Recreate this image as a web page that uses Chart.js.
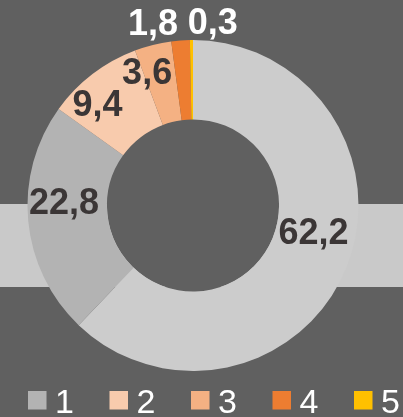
<!DOCTYPE html>
<html>
<head>
<meta charset="utf-8">
<script src="https://cdn.jsdelivr.net/npm/chart.js@4"></script>
<style>
  html, body { margin: 0; padding: 0; background: #606060; }
  #wrap { width: 403px; height: 417px; }
</style>
</head>
<body>
<div id="wrap"><canvas id="chartAnillo"></canvas></div>
<script>
// datos del gráfico
const categorias = ['', '1', '2', '3', '4', '5'];
const valores = [62.2, 22.8, 9.4, 3.6, 1.8, 0.3];
const etiquetas = ['62,2', '22,8', '9,4', '3,6', '1,8', '0,3'];

const colores = ['#cccccc', '#b3b3b3', '#f8cbad', '#f4b183', '#ed7d31', '#ffc000'];
const colorFondo = '#606060';
const colorFranja = '#c9c9c9';
// colocación de etiquetas: desplazamiento de ángulo (grados) y radio relativo al radio exterior
const posEtiquetas = [[-9.5, 0.745], [7, 0.78], [-6, 0.84], [-5, 0.85], [-8, 1.13], [6.7, 1.115]];
const colorEtiquetas = ['#3b3636', '#3b3636', '#3b3636', '#3b3636', '#ffffff', '#ffffff'];

// fondo, franja horizontal y hueco central
const fondoPlugin = {
    id: 'fondo',
    beforeDraw(chart) {
        const ctx = chart.ctx;
        ctx.save();
        ctx.fillStyle = colorFondo;
        ctx.fillRect(0, 0, chart.width, chart.height);
        ctx.fillStyle = colorFranja;
        ctx.fillRect(0, 204, chart.width, 83);
        ctx.restore();
    },
    beforeDatasetsDraw(chart) {
        const arc = chart.getDatasetMeta(0).data[0];
        if (!arc) return;
        const ctx = chart.ctx;
        ctx.save();
        ctx.fillStyle = colorFondo;
        ctx.beginPath();
        ctx.arc(arc.x, arc.y, arc.innerRadius, 0, Math.PI * 2);
        ctx.fill();
        ctx.restore();
    }
};

// etiquetas de valores
const etiquetasPlugin = {
    id: 'etiquetasValores',
    afterDatasetsDraw(chart) {
        const ctx = chart.ctx;
        ctx.save();
        ctx.font = 'bold 36px "Liberation Sans", Arial, sans-serif';
        ctx.textAlign = 'center';
        ctx.textBaseline = 'middle';
        chart.getDatasetMeta(0).data.forEach((arc, i) => {
            const mid = (arc.startAngle + arc.endAngle) / 2 + posEtiquetas[i][0] * Math.PI / 180;
            const r = arc.outerRadius * posEtiquetas[i][1];
            ctx.fillStyle = colorEtiquetas[i];
            ctx.fillText(etiquetas[i], arc.x + Math.cos(mid) * r, arc.y + Math.sin(mid) * r + 2);
        });
        ctx.restore();
    }
};

// leyenda (sin la primera categoría)
const leyendaPlugin = {
    id: 'leyenda',
    afterDraw(chart) {
        const ctx = chart.ctx;
        ctx.save();
        ctx.font = '34px "Liberation Sans", Arial, sans-serif';
        ctx.textBaseline = 'alphabetic';
        ctx.textAlign = 'left';
        let x = 28;
        for (let i = 1; i < categorias.length; i++) {
            ctx.fillStyle = colores[i];
            ctx.fillRect(x, 391, 18.5, 18.5);
            ctx.fillStyle = '#ffffff';
            ctx.fillText(categorias[i], x + 27, 413);
            x += 81.5;
        }
        ctx.restore();
    }
};

new Chart(document.getElementById('chartAnillo'), {
    type: 'doughnut',
    data: {
        labels: categorias,
        datasets: [{
            data: valores,
            backgroundColor: colores,
            borderWidth: 0,
            hoverOffset: 0
        }]
    },
    options: {
        responsive: true,
        maintainAspectRatio: false,
        animation: false,
        cutout: '52%',
        layout: { padding: { left: 0, right: 17, top: 40, bottom: 46 } },
        plugins: {
            legend: { display: false },
            tooltip: { enabled: false }
        }
    },
    plugins: [fondoPlugin, etiquetasPlugin, leyendaPlugin]
});
</script>
</body>
</html>
